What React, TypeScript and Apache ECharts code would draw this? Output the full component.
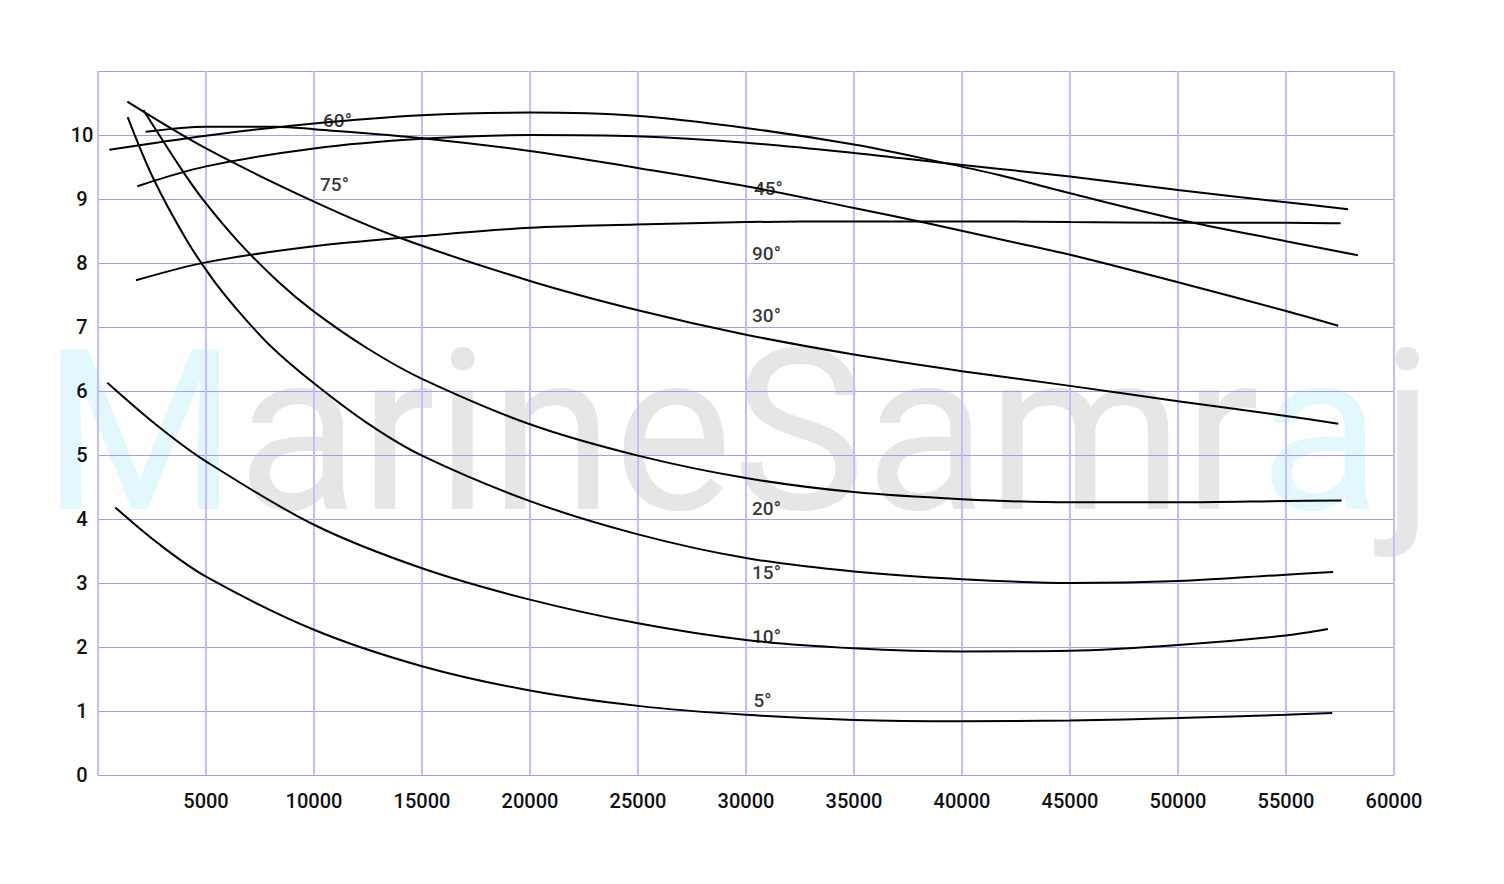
import { useEffect, useRef } from "react";
import * as echarts from "echarts";

// Curve data: [x, y] pairs
const deg5 = [[802,4.18],[2780,3.62],[5000,3.10],[10000,2.27],[15000,1.70],[20000,1.32],[25000,1.08],[30000,0.94],[35000,0.86],[40000,0.84],[45000,0.85],[50000,0.89],[55000,0.94],[57140,0.97]];
const deg10 = [[432,6.13],[2780,5.45],[5000,4.90],[10000,3.91],[15000,3.23],[20000,2.74],[25000,2.37],[30000,2.11],[35000,1.98],[40000,1.93],[45000,1.94],[50000,2.03],[55000,2.18],[56940,2.28]];
const deg15 = [[1373,10.28],[2562,9.32],[4100,8.36],[5324,7.74],[6420,7.28],[8000,6.70],[10000,6.12],[12500,5.49],[15000,4.99],[20000,4.28],[25000,3.76],[30000,3.39],[35000,3.18],[40000,3.06],[45000,3.0],[50000,3.03],[55000,3.13],[57180,3.17]];
const deg20 = [[2099,10.39],[3951,9.42],[5000,8.93],[6450,8.35],[8333,7.71],[10000,7.24],[12500,6.66],[15000,6.19],[20000,5.48],[25000,4.99],[30000,4.64],[35000,4.42],[40000,4.31],[45000,4.26],[50000,4.26],[55000,4.28],[57570,4.29]];
const deg30 = [[1358,10.52],[5000,9.79],[10000,8.96],[14000,8.39],[20000,7.72],[24900,7.27],[30000,6.88],[35000,6.57],[40000,6.31],[45000,6.08],[50000,5.84],[55000,5.61],[57420,5.49]];
const deg45 = [[2207,10.05],[5000,10.13],[8272,10.13],[10000,10.09],[15000,9.95],[20000,9.75],[24900,9.49],[30000,9.20],[35000,8.86],[38300,8.63],[41760,8.37],[45000,8.13],[50000,7.70],[55000,7.25],[57420,7.02]];
const deg60 = [[525,9.77],[5000,9.99],[10000,10.18],[15000,10.31],[20000,10.35],[24900,10.30],[30000,10.11],[35000,9.85],[38950,9.58],[41760,9.37],[45000,9.09],[50000,8.68],[55000,8.34],[58330,8.12]];
const deg75 = [[1821,9.20],[5000,9.51],[10000,9.79],[15000,9.94],[20000,10.0],[24900,9.98],[30000,9.88],[35000,9.72],[38950,9.57],[41760,9.47],[45000,9.35],[50000,9.14],[55000,8.95],[57870,8.84]];
const deg90 = [[1759,7.73],[5000,8.01],[10000,8.26],[15000,8.42],[20000,8.55],[24900,8.60],[30000,8.64],[35000,8.65],[41760,8.65],[45000,8.64],[50000,8.63],[55000,8.63],[57530,8.62]];

const curveNames = ["5°", "10°", "15°", "20°", "30°", "45°", "60°", "75°", "90°"];
const curveData = [deg5, deg10, deg15, deg20, deg30, deg45, deg60, deg75, deg90];

// Curve annotation labels
const labelText = ["60°", "75°", "45°", "90°", "30°", "20°", "15°", "10°", "5°"];
const labelX = [10420, 10280, 30370, 30280, 30280, 30280, 30280, 30280, 30350];
const labelY = [10.23, 9.23, 9.16, 8.15, 7.18, 4.16, 3.17, 2.16, 1.17];

const xMin = 0, xMax = 60000, xStep = 5000;
const yMin = 0, yMax = 11, yStep = 1;

export default function App() {
  const ref = useRef<HTMLDivElement>(null);
  useEffect(() => {
    const chart = echarts.init(ref.current!, null, { renderer: "svg" });
    const hColor = "#a39cef";
    const vColor = "#c1bcfa";
    chart.setOption({
      animation: false,
      backgroundColor: "#ffffff",
      textStyle: { fontFamily: "Roboto" },
      grid: { left: 98, right: 110, top: 71, bottom: 109, containLabel: false },
      xAxis: {
        type: "value",
        min: xMin,
        max: xMax,
        interval: xStep,
        axisLine: { show: false },
        axisTick: { show: false },
        splitLine: { show: true, lineStyle: { color: vColor, width: 2 } },
        axisLabel: {
          formatter: (v: number) => (v === 0 ? "" : String(v)),
          fontSize: 20,
          fontWeight: 500,
          color: "#111",
          fontFamily: "Roboto",
          margin: 16,
          showMinLabel: true,
          showMaxLabel: true,
        },
      },
      yAxis: {
        type: "value",
        min: yMin,
        max: yMax,
        interval: yStep,
        axisLine: { show: false },
        axisTick: { show: false },
        splitLine: { show: true, lineStyle: { color: hColor, width: 1 } },
        axisLabel: {
          formatter: (v: number) => (v === yMax ? "" : String(v)),
          fontSize: 20,
          fontWeight: 500,
          color: "#111",
          fontFamily: "Roboto",
          align: "center",
          margin: 16,
        },
      },
      graphic: [
        {
          type: "text",
          x: 42,
          y: 432,
          z: -10,
          silent: true,
          style: {
            text: "{c|M}{g|arineSamr}{c|a}{g|j}",
            font: "224px Roboto",
            fontSize: 224,
            fontFamily: "Roboto",
            align: "left",
            verticalAlign: "middle",
            rich: {
              c: { fill: "#e2f8fd", fontSize: 224, fontFamily: "Roboto" },
              g: { fill: "#e6e6e6", fontSize: 224, fontFamily: "Roboto" },
            },
          },
        },
      ],
      series: [
        ...curveData.map((d, i) => ({
          type: "line",
          name: curveNames[i],
          data: d,
          smooth: 0.33,
          showSymbol: false,
          symbol: "none",
          silent: true,
          z: 3,
          lineStyle: { color: "#000", width: 2 },
        })),
        {
          type: "scatter",
          silent: true,
          z: 5,
          symbolSize: 1,
          itemStyle: { color: "rgba(0,0,0,0)" },
          data: labelText.map((t, i) => ({ name: t, value: [labelX[i], labelY[i]] })),
          label: {
            show: true,
            formatter: (p: any) => p.name,
            position: "inside",
            align: "left",
            verticalAlign: "middle",
            fontSize: 19,
            fontWeight: 500,
            color: "#000",
            fontFamily: "Roboto",
          },
        },
      ],
    });
    return () => chart.dispose();
  }, []);
  return (
    <div
      ref={ref}
      style={{ position: "fixed", left: 0, top: 0, width: 1504, height: 884, background: "#fff" }}
    />
  );
}
